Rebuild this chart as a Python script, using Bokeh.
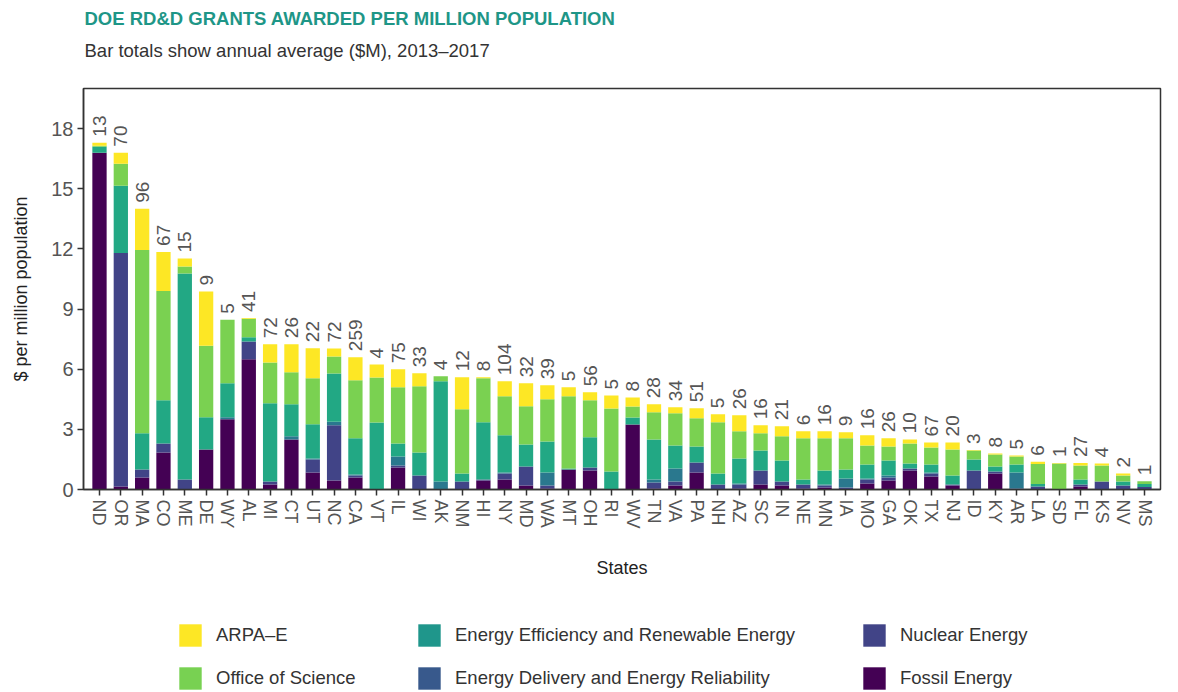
import math
from bokeh.plotting import figure
from bokeh.layouts import column
from bokeh.models import (ColumnDataSource, FactorRange, Range1d, FixedTicker, Label,
                          Legend, LegendItem)
from bokeh.core.properties import value
from bokeh.embed import file_html
from bokeh.resources import INLINE

states = ["ND", "OR", "MA", "CO", "ME", "DE", "WY", "AL", "MI", "CT",
          "UT", "NC", "CA", "VT", "IL", "WI", "AK", "NM", "HI", "NY",
          "MD", "WA", "MT", "OH", "RI", "WV", "TN", "VA", "PA", "NH",
          "AZ", "SC", "IN", "NE", "MN", "IA", "MO", "GA", "OK", "TX",
          "NJ", "ID", "KY", "AR", "LA", "SD", "FL", "KS", "NV", "MS"]

fossil = [16.8, 0.15, 0.6, 1.85, 0, 2.0, 3.5, 6.5, 0.25, 2.5,
          0.85, 0.45, 0.6, 0, 1.1, 0, 0, 0, 0.45, 0.5,
          0.2, 0.05, 1.0, 0.95, 0, 3.24, 0.05, 0.2, 0.85, 0,
          0.05, 0.25, 0.2, 0.05, 0.1, 0, 0.3, 0.45, 0.95, 0.65,
          0.2, 0, 0.8, 0, 0, 0, 0.15, 0, 0, 0.03]
nuclear = [0, 11.65, 0.4, 0.45, 0.5, 0, 0, 0.88, 0.15, 0,
           0.65, 2.75, 0.1, 0, 0.1, 0.7, 0, 0.4, 0.05, 0.3,
           0.95, 0.15, 0, 0.15, 0, 0, 0.3, 0.2, 0.5, 0.25,
           0.2, 0.7, 0.2, 0.2, 0.1, 0.1, 0.2, 0.15, 0.1, 0.15,
           0.05, 0.95, 0.1, 0.05, 0.15, 0, 0.1, 0.4, 0.2, 0.1]
delivery = [0, 0, 0, 0, 0, 0, 0.1, 0, 0, 0.15,
            0.05, 0.18, 0.05, 0, 0.45, 0, 0.4, 0, 0, 0.05,
            0, 0.65, 0, 0, 0, 0, 0.15, 0.65, 0, 0,
            0.05, 0, 0, 0, 0.05, 0.45, 0.05, 0.1, 0, 0.05,
            0, 0, 0, 0.8, 0, 0, 0, 0, 0, 0]
eere = [0.3, 3.35, 1.8, 2.15, 10.27, 1.6, 1.7, 0.21, 3.9, 1.6,
        1.7, 2.4, 1.8, 3.34, 0.65, 1.15, 5.0, 0.4, 2.85, 1.85,
        1.1, 1.55, 0.05, 1.5, 0.9, 0.35, 2.0, 1.15, 0.8, 0.55,
        1.25, 1.0, 1.05, 0.25, 0.7, 0.45, 0.7, 0.75, 0.25, 0.4,
        0.45, 0.55, 0.25, 0.4, 0.12, 0, 0.25, 0, 0.2, 0.15]
science = [0.05, 1.1, 9.15, 5.45, 0.35, 3.57, 3.17, 0.93, 2.03, 1.6,
           2.3, 0.85, 2.9, 2.24, 2.8, 3.3, 0.25, 3.2, 2.2, 1.95,
           1.9, 2.1, 3.6, 1.85, 3.14, 0.55, 1.35, 1.6, 1.4, 2.55,
           1.35, 0.85, 1.2, 2.05, 1.6, 1.55, 0.95, 0.7, 1.0, 0.85,
           1.3, 0.45, 0.6, 0.4, 1.0, 1.3, 0.7, 0.8, 0.3, 0.13]
arpa = [0.15, 0.55, 2.05, 1.95, 0.4, 2.7, 0, 0.03, 0.91, 1.4,
        1.5, 0.4, 1.15, 0.65, 0.9, 0.65, 0, 1.6, 0.05, 0.75,
        1.15, 0.7, 0.45, 0.4, 0.65, 0.45, 0.4, 0.3, 0.5, 0.4,
        0.8, 0.4, 0.5, 0.35, 0.35, 0.3, 0.5, 0.4, 0.2, 0.25,
        0.35, 0.02, 0.05, 0.05, 0.12, 0.02, 0.12, 0.1, 0.1, 0]
annual_avg = [13, 70, 96, 67, 15, 9, 5, 41, 72, 26,
              22, 72, 259, 4, 75, 33, 4, 12, 8, 104,
              32, 39, 5, 56, 5, 8, 28, 34, 51, 5,
              26, 16, 21, 6, 16, 9, 16, 26, 10, 67,
              20, 3, 8, 5, 6, 1, 27, 4, 2, 1]

series = ["fossil", "nuclear", "delivery", "eere", "science", "arpa"]
names = {"fossil": "Fossil Energy", "nuclear": "Nuclear Energy",
         "delivery": "Energy Delivery and Energy Reliability",
         "eere": "Energy Efficiency and Renewable Energy",
         "science": "Office of Science", "arpa": "ARPA\u2013E"}
bar_colors = ["#440154", "#414487", "#2A788E", "#22A884", "#7AD151", "#FDE725"]
legend_colors = {"arpa": "#FDE725", "science": "#78D152", "eere": "#1F968B",
                 "delivery": "#38598C", "nuclear": "#414487", "fossil": "#440154"}

title_text = "DOE RD&D GRANTS AWARDED PER MILLION POPULATION"
subtitle_text = "Bar totals show annual average ($M), 2013\u20132017"

FONT = "Liberation Sans"
W = 1170
BL, BR = 83, 10   # shared left/right borders so all frames line up

# ---------------- header (title + subtitle) ----------------
head = figure(width=W, height=80, x_range=Range1d(BL, W - BR), y_range=Range1d(80, 0),
              output_backend="svg", toolbar_location=None, title=None,
              x_axis_type=None, y_axis_type=None, min_border=0,
              min_border_left=BL, min_border_right=BR,
              outline_line_color=None, background_fill_color="white",
              border_fill_color="white")
head.xgrid.visible = False
head.ygrid.visible = False
head.add_layout(Label(x=84, y=18, text=title_text, text_font=FONT,
                      text_font_size="18.5px", text_font_style="bold",
                      text_color="#1E9687", text_baseline="middle", text_align="left"))
head.add_layout(Label(x=84, y=50, text=subtitle_text, text_font=FONT,
                      text_font_size="18.5px", text_color="#333333",
                      text_baseline="middle", text_align="left"))

# ---------------- main chart ----------------
data = dict(state=states, fossil=fossil, nuclear=nuclear, delivery=delivery,
            eere=eere, science=science, arpa=arpa)
data["total"] = [sum(v) for v in zip(fossil, nuclear, delivery, eere, science, arpa)]
data["label"] = [str(v) for v in annual_avg]
src = ColumnDataSource(data)

p = figure(x_range=FactorRange(factors=states, range_padding=0.25,
                               range_padding_units="absolute"),
           y_range=Range1d(0, 20), width=W, height=520,
           output_backend="svg", toolbar_location=None, title=None,
           min_border_left=BL, min_border_right=BR, min_border_top=8,
           min_border_bottom=111, background_fill_color="white",
           border_fill_color="white")

p.vbar_stack(series, x="state", width=0.67, color=bar_colors, source=src,
             line_color=None)

p.text(x="state", y="total", text="label", source=src, angle=math.pi / 2,
       text_align="left", text_baseline="middle", y_offset=-6,
       text_font_size="19px", text_color="#555555", text_font=value(FONT))

p.xgrid.visible = False
p.ygrid.visible = False
p.outline_line_color = "#333333"
p.outline_line_width = 1.5

p.yaxis.ticker = FixedTicker(ticks=[0, 3, 6, 9, 12, 15, 18])
p.yaxis.minor_tick_line_color = None
p.yaxis.major_tick_out = 6
p.yaxis.major_tick_in = 0
p.yaxis.major_label_standoff = 4
p.yaxis.axis_label = "$ per million population"
p.yaxis.axis_label_standoff = 17

p.xaxis.major_label_orientation = "vertical"
p.xaxis.major_tick_out = 6
p.xaxis.major_tick_in = 0
p.xaxis.major_label_standoff = 4
p.xaxis.axis_label = "States"
p.xaxis.axis_label_standoff = 27

for ax in (p.xaxis, p.yaxis):
    ax.axis_line_color = "#333333"
    ax.axis_line_width = 1.5
    ax.major_tick_line_color = "#333333"
    ax.major_tick_line_width = 1.5
    ax.major_label_text_font = FONT
    ax.major_label_text_color = "#555555"
    ax.axis_label_text_font = FONT
    ax.axis_label_text_font_style = "normal"
    ax.axis_label_text_color = "#222222"
    ax.axis_label_text_font_size = "18px"
p.xaxis.major_label_text_font_size = "18px"
p.yaxis.major_label_text_font_size = "20px"

# ---------------- legend (three columns) ----------------
lg = figure(width=W, height=92, x_range=Range1d(0, 1), y_range=Range1d(0, 1),
            output_backend="svg", toolbar_location=None, title=None,
            x_axis_type=None, y_axis_type=None, min_border=0,
            min_border_left=BL, min_border_right=BR,
            outline_line_color=None, background_fill_color="white",
            border_fill_color="white")
lg.xgrid.visible = False
lg.ygrid.visible = False
# zero-size swatches that only feed the legend
dummy = {s: lg.vbar(x=[0.5], top=[0], bottom=[0], width=0, fill_color=legend_colors[s],
                    line_color=None)
         for s in series}

cols = [(["arpa", "science"], 176), (["eere", "delivery"], 415),
        (["nuclear", "fossil"], 860)]
for keys, xpage in cols:
    leg = Legend(items=[LegendItem(label=names[k], renderers=[dummy[k]]) for k in keys],
                 location=(xpage - BL, 0), orientation="vertical",
                 glyph_width=28, glyph_height=28, spacing=15, label_standoff=12,
                 padding=0, margin=0, border_line_color=None,
                 background_fill_alpha=0, label_text_font_size="18.5px",
                 label_text_color="#333333", label_text_font=FONT)
    lg.add_layout(leg)

layout = column(head, p, lg, spacing=0)
open("out.html", "w").write(file_html(layout, INLINE))
